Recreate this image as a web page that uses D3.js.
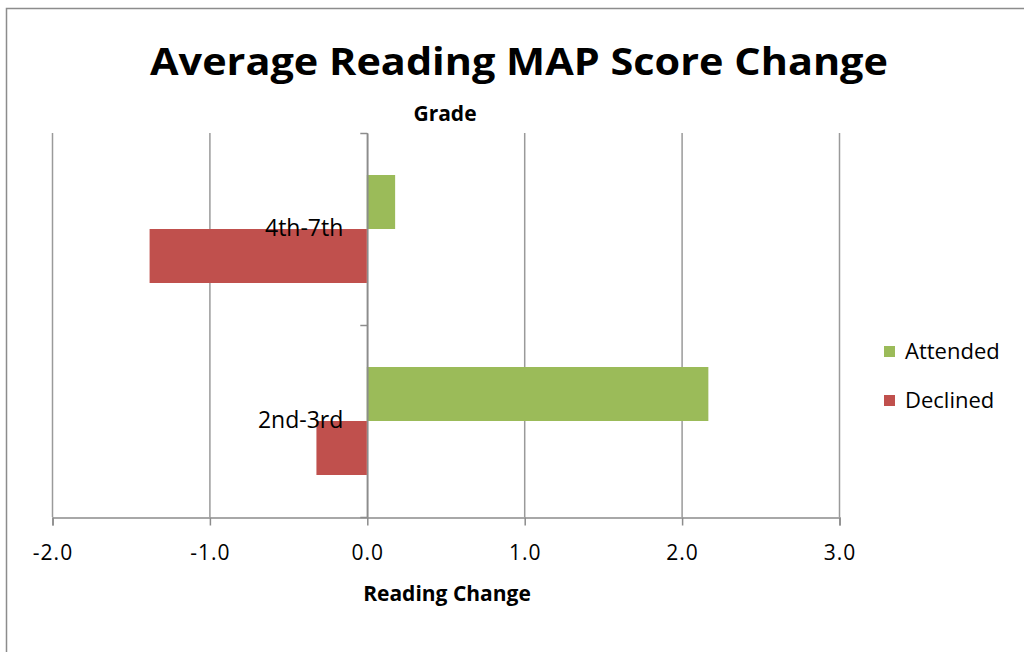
<!DOCTYPE html>
<html>
<head>
<meta charset="utf-8">
<script src="https://cdn.jsdelivr.net/npm/d3@7"></script>
<style>
  body { margin: 0; background: #fff; }
  text { font-family: "Open Sans", "DejaVu Sans", sans-serif; }
</style>
</head>
<body>
<div id="target"></div>
<script>
// data
const grades = ["4th-7th", "2nd-3rd"];
const seriesNames = ["Attended", "Declined"];
const attended = [0.18, 2.17];
const declined = [-1.38, -0.32];
const xTicks = [-2, -1, 0, 1, 2, 3];
const colors = ["#9bbb59", "#c0504d"];

function chart() {
  const width = 1024,
    height = 652,
    left = 52,
    right = 839,
    top = 133,
    bottom = 517;

  let svg = d3.select("#target").append("svg")
    .attr("width", width)
    .attr("height", height);

  // outer frame
  svg.append("rect")
    .attr("x", 6.5)
    .attr("y", 8.5)
    .attr("width", 1040)
    .attr("height", 700)
    .attr("fill", "#fff")
    .attr("stroke", "#8c8c8c")
    .attr("stroke-width", 1.5);

  let x = d3.scaleLinear()
    .domain([-2, 3])
    .range([left, right]);
  let y = d3.scaleBand()
    .domain(grades)
    .range([top, bottom])
    .paddingInner(0.4375)
    .paddingOuter(0.21875);
  let ySub = d3.scaleBand()
    .domain(seriesNames)
    .range([0, y.bandwidth()]);
  let color = d3.scaleOrdinal()
    .domain(seriesNames)
    .range(colors);

  // gridlines
  svg.append("g")
    .selectAll("line")
    .data(xTicks)
    .enter().append("line")
    .attr("x1", (d) => x(d) + 0.5)
    .attr("x2", (d) => x(d) + 0.5)
    .attr("y1", top)
    .attr("y2", bottom)
    .attr("stroke", "#9a9a9a")
    .attr("stroke-width", 1.5);

  // bottom axis
  let xAxis = d3.axisBottom(x)
    .tickValues(xTicks)
    .tickSize(8)
    .tickFormat(d3.format(".1f"));
  let gx = svg.append("g")
    .attr("transform", `translate(0.5, ${bottom + 0.5})`)
    .call(xAxis);
  gx.select(".domain").attr("stroke", "#8c8c8c").attr("stroke-width", 1.5);
  gx.selectAll(".tick line").attr("stroke", "#8c8c8c").attr("stroke-width", 1.5);
  gx.selectAll(".tick text")
    .attr("y", 28)
    .attr("fill", "#000")
    .style("font-size", "21px")
    .style("letter-spacing", "1px")
    .text((d) => d3.format(".1f")(d).replace("−", "-"));

  // bars
  const rows = [];
  grades.forEach((g, i) => {
    rows.push({ grade: g, series: "Attended", value: attended[i] });
    rows.push({ grade: g, series: "Declined", value: declined[i] });
  });
  svg.append("g")
    .selectAll("rect")
    .data(rows)
    .enter().append("rect")
    .attr("x", (d) => x(Math.min(0, d.value)))
    .attr("y", (d) => y(d.grade) + ySub(d.series))
    .attr("width", (d) => Math.abs(x(d.value) - x(0)))
    .attr("height", ySub.bandwidth())
    .attr("fill", (d) => color(d.series));

  // category axis at zero
  let yAxis = d3.axisLeft(y)
    .tickSize(0)
    .tickPadding(24);
  let gy = svg.append("g")
    .attr("transform", `translate(${x(0) + 0.5}, 0)`)
    .call(yAxis);
  gy.select(".domain").attr("stroke", "#8c8c8c").attr("stroke-width", 1.5);
  gy.selectAll(".tick text")
    .attr("fill", "#000")
    .style("font-size", "23px");
  // category boundary ticks
  const bounds = [top, top + y.step(), bottom];
  gy.selectAll(".btick")
    .data(bounds)
    .enter().append("line")
    .attr("x1", -7)
    .attr("x2", 0)
    .attr("y1", (d) => d + 0.5)
    .attr("y2", (d) => d + 0.5)
    .attr("stroke", "#8c8c8c")
    .attr("stroke-width", 1.5);

  // titles
  svg.append("text")
    .attr("x", 519)
    .attr("y", 75)
    .attr("text-anchor", "middle")
    .style("font-size", "37px")
    .style("font-weight", "bold")
    .attr("textLength", 738)
    .attr("lengthAdjust", "spacingAndGlyphs")
    .text("Average Reading MAP Score Change");
  svg.append("text")
    .attr("x", 445)
    .attr("y", 121)
    .attr("text-anchor", "middle")
    .style("font-size", "21px")
    .style("font-weight", "bold")
    .text("Grade");
  svg.append("text")
    .attr("x", 447)
    .attr("y", 601)
    .attr("text-anchor", "middle")
    .style("font-size", "21px")
    .style("font-weight", "bold")
    .text("Reading Change");

  // legend
  let legend = svg.append("g")
    .selectAll("g")
    .data(seriesNames)
    .enter().append("g")
    .attr("transform", (d, i) => `translate(884, ${346 + i * 49})`);
  legend.append("rect")
    .attr("width", 11)
    .attr("height", 11)
    .attr("fill", (d) => color(d));
  legend.append("text")
    .attr("x", 21)
    .attr("y", 5.5)
    .attr("dy", "0.35em")
    .style("font-size", "22px")
    .text((d) => d);
}
chart();
</script>
</body>
</html>
